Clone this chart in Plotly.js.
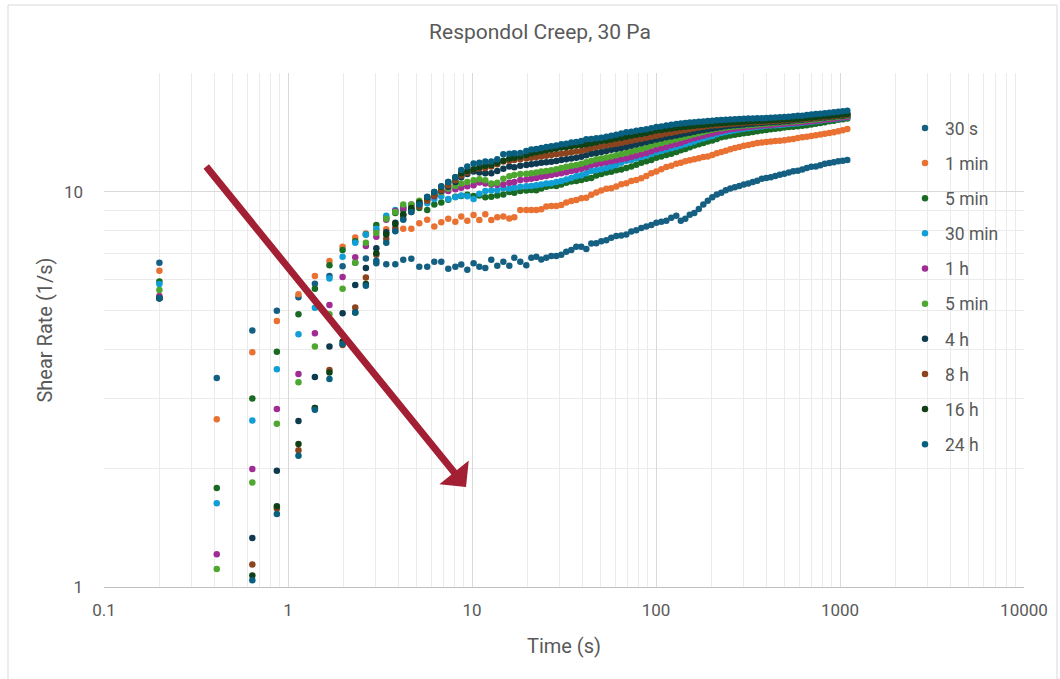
<!DOCTYPE html>
<html><head><meta charset="utf-8">
<script src="https://cdn.plot.ly/plotly-3.0.1.min.js"></script>
<style>html,body{margin:0;padding:0;background:#fff;}#chart{width:1060px;height:679px;}</style>
</head><body><div id="chart"></div>
<script>
// Time (s), shared by all series
const time = [0.2,0.41,0.64,0.87,1.14,1.4,1.68,1.98,2.32,2.65,
 3.02,3.42,3.83,4.23,4.68,5.17,5.71,6.24,6.81,7.43,
 8.12,8.74,9.43,10.2,10.96,11.81,12.73,13.72,14.8,15.95,
 16.98,18.3,19.73,21.01,22.36,23.8,25.34,26.98,28.72,30.57,
 32.54,34.65,36.88,39.26,41.8,44.5,47.37,50.43,53.69,57.16,
 60.83,64.76,68.95,73.4,78.14,83.2,88.6,94.3,100.4,106.9,
 113.8,121.1,128.9,136.4,144.3,152.6,161.5,170.9,180.8,191.2,
 202.3,214,226.4,239.5,253.4,268.1,283.6,300,317.4,335.8,
 355.2,375.8,397.6,420.6,445,470.8,498.1,526.9,557.5,589.8,
 623.9,660.1,698.3,738.8,781.5,826.8,874.7,925.4,979,1035.6,
 1095.6];

const seriesNames = ['30 s','1 min','5 min','30 min','1 h','5 min','4 h','8 h','16 h','24 h'];
const seriesColors = ['#156082','#E97132','#196B24','#0F9ED5','#A02B93','#4EA72E','#0D3A4E','#8C441E','#0F4016','#095F80'];

// Shear rate (1/s)
const s30 = [6.62,3.38,4.46,5.0,5.41,5.86,6.13,6.48,6.62,6.78,
 6.6,6.56,6.56,6.73,6.77,6.47,6.47,6.66,6.66,6.39,
 6.47,6.55,6.35,6.6,6.47,6.42,6.73,6.5,6.66,6.5,
 6.81,6.66,6.52,6.81,6.85,6.74,6.81,6.88,6.88,6.93,
 7.06,7.13,7.27,7.27,7.17,7.4,7.42,7.5,7.55,7.66,
 7.74,7.76,7.8,7.94,8.0,8.1,8.18,8.25,8.35,8.4,
 8.45,8.6,8.7,8.45,8.55,8.75,8.85,9.05,9.3,9.5,
 9.7,9.85,9.95,10.1,10.2,10.28,10.35,10.45,10.5,10.6,
 10.68,10.8,10.85,10.9,10.98,11.05,11.12,11.2,11.28,11.32,
 11.4,11.5,11.58,11.6,11.68,11.78,11.83,11.88,11.95,12.0,
 12.05];
const min1 = [6.32,2.66,3.93,4.71,5.51,6.13,6.69,7.27,7.67,7.85,
 8.0,8.05,8.0,8.07,8.07,8.33,8.5,8.17,8.38,8.55,
 8.4,8.66,8.45,8.74,8.49,8.78,8.49,8.63,8.66,8.57,
 8.63,9.0,9.0,9.0,9.0,9.04,9.18,9.21,9.21,9.27,
 9.4,9.49,9.54,9.64,9.67,9.83,9.96,10.08,10.18,10.22,
 10.32,10.46,10.52,10.66,10.72,10.83,10.98,11.15,11.26,11.42,
 11.56,11.65,11.78,11.85,11.95,12.02,12.1,12.17,12.25,12.3,
 12.4,12.52,12.62,12.72,12.83,12.92,13.0,13.08,13.15,13.22,
 13.3,13.33,13.38,13.42,13.45,13.48,13.52,13.58,13.62,13.69,
 13.75,13.8,13.86,13.92,13.97,14.03,14.1,14.16,14.25,14.33,
 14.43];
const min5 = [5.93,1.78,3.0,3.94,4.9,5.69,6.52,7.13,7.5,7.8,
 8.25,8.6,8.85,9.0,9.05,9.1,9.0,9.3,9.4,9.55,
 9.72,9.77,9.83,9.77,9.8,9.7,9.72,9.8,9.85,10.0,
 9.95,10.05,10.08,10.12,10.1,10.2,10.3,10.36,10.35,10.45,
 10.55,10.62,10.66,10.72,10.8,10.85,11.0,11.1,11.2,11.25,
 11.35,11.4,11.5,11.6,11.72,11.85,11.95,12.05,12.2,12.3,
 12.4,12.5,12.62,12.75,12.85,12.98,13.1,13.2,13.3,13.42,
 13.5,13.62,13.75,13.82,13.9,13.96,14.02,14.08,14.12,14.18,
 14.25,14.3,14.35,14.4,14.45,14.5,14.55,14.6,14.62,14.66,
 14.7,14.75,14.82,14.88,14.95,15.02,15.1,15.15,15.22,15.28,
 15.35];
const min30 = [5.85,1.63,2.64,3.56,4.36,5.09,6.04,6.85,7.44,7.8,
 8.07,8.7,9.0,9.15,9.25,9.3,9.36,9.6,9.75,9.6,
 9.7,9.8,9.75,9.6,9.9,10.05,10.08,10.1,10.22,10.2,
 10.25,10.3,10.33,10.35,10.4,10.45,10.5,10.52,10.6,10.66,
 10.75,10.85,10.95,11.02,11.15,11.3,11.35,11.42,11.5,11.6,
 11.7,11.85,12.0,12.05,12.15,12.25,12.35,12.48,12.6,12.7,
 12.8,12.9,13.0,13.1,13.2,13.3,13.42,13.55,13.65,13.75,
 13.85,14.0,14.1,14.18,14.25,14.32,14.38,14.45,14.5,14.55,
 14.6,14.65,14.7,14.72,14.75,14.78,14.82,14.85,14.88,14.92,
 14.96,15.0,15.05,15.1,15.15,15.2,15.25,15.3,15.35,15.4,
 15.45];
const h1 = [5.45,1.21,1.99,2.82,3.46,4.39,5.17,6.09,6.83,7.3,
 7.7,8.5,8.95,9.1,9.3,9.45,9.6,9.75,10.0,10.05,
 10.15,10.25,10.33,10.4,10.56,10.5,10.45,10.42,10.45,10.55,
 10.6,10.72,10.75,10.8,10.85,10.92,10.98,11.04,11.1,11.15,
 11.22,11.3,11.37,11.45,11.55,11.7,11.75,11.82,11.88,11.95,
 12.02,12.1,12.15,12.25,12.35,12.45,12.55,12.68,12.8,12.9,
 13.0,13.12,13.22,13.32,13.45,13.58,13.68,13.78,13.88,13.98,
 14.06,14.15,14.25,14.32,14.4,14.45,14.5,14.55,14.6,14.64,
 14.68,14.72,14.75,14.78,14.82,14.85,14.88,14.92,14.95,14.98,
 15.02,15.06,15.1,15.14,15.18,15.22,15.28,15.32,15.38,15.42,
 15.48];
const min5b = [5.65,1.11,1.84,2.59,3.3,4.06,4.9,5.69,6.62,7.44,
 7.87,8.55,8.9,9.3,9.3,9.5,9.7,9.85,10.0,10.2,
 10.35,10.5,10.6,10.7,10.77,10.7,10.5,10.55,10.8,10.95,
 11.04,11.1,11.12,11.15,11.2,11.26,11.3,11.35,11.42,11.5,
 11.58,11.65,11.7,11.78,11.88,12.0,12.1,12.15,12.22,12.3,
 12.38,12.48,12.55,12.65,12.75,12.85,12.95,13.08,13.2,13.3,
 13.4,13.5,13.6,13.7,13.8,13.9,14.0,14.08,14.18,14.28,
 14.36,14.45,14.5,14.55,14.6,14.64,14.68,14.72,14.75,14.78,
 14.82,14.85,14.88,14.92,14.95,14.98,15.02,15.05,15.08,15.12,
 15.15,15.2,15.24,15.28,15.32,15.36,15.4,15.45,15.5,15.55,
 15.6];
const h4 = [5.38,null,1.33,1.97,2.63,3.4,4.06,4.93,5.81,6.42,
 7.2,7.9,8.35,8.75,9.0,9.3,9.55,9.8,10.05,10.3,
 10.6,10.9,11.1,11.26,11.2,11.15,11.15,11.3,11.45,11.6,
 11.55,11.65,11.7,11.75,11.8,11.85,11.88,11.92,11.98,12.05,
 12.1,12.15,12.2,12.28,12.38,12.5,12.55,12.62,12.7,12.78,
 12.85,12.92,13.0,13.08,13.18,13.28,13.38,13.48,13.58,13.66,
 13.75,13.82,13.9,13.98,14.05,14.12,14.2,14.28,14.35,14.42,
 14.48,14.54,14.6,14.66,14.7,14.74,14.78,14.82,14.85,14.88,
 14.92,14.95,14.98,15.0,15.03,15.06,15.1,15.13,15.16,15.2,
 15.24,15.28,15.32,15.36,15.4,15.44,15.48,15.52,15.56,15.6,
 15.65];
const h8 = [5.38,null,1.14,1.58,2.22,2.84,3.54,4.1,5.1,6.07,
 6.93,7.6,8.1,8.55,8.9,9.2,9.5,9.8,10.1,10.4,
 10.7,11.0,11.2,11.4,11.47,11.5,11.6,11.75,11.94,12.0,
 12.05,12.1,12.15,12.2,12.25,12.3,12.35,12.4,12.45,12.5,
 12.55,12.6,12.65,12.7,12.8,12.9,12.99,13.05,13.12,13.18,
 13.25,13.32,13.4,13.48,13.56,13.64,13.72,13.8,13.88,13.96,
 14.05,14.12,14.2,14.28,14.35,14.42,14.5,14.56,14.62,14.68,
 14.72,14.76,14.8,14.84,14.88,14.9,14.93,14.96,14.98,15.0,
 15.02,15.05,15.08,15.1,15.12,15.15,15.18,15.2,15.23,15.26,
 15.3,15.33,15.37,15.41,15.45,15.49,15.53,15.57,15.61,15.65,
 15.7];
const h16 = [5.38,null,1.07,1.6,2.3,2.84,3.49,4.18,4.95,5.85,
 7.0,7.8,8.3,8.75,9.1,9.4,9.7,10.0,10.3,10.6,
 10.9,11.15,11.3,11.42,11.55,11.65,11.7,11.85,12.0,12.15,
 12.2,12.3,12.4,12.53,12.6,12.68,12.75,12.82,12.88,12.95,
 12.99,13.05,13.1,13.15,13.2,13.28,13.35,13.45,13.5,13.58,
 13.65,13.72,13.8,13.88,13.95,14.02,14.1,14.2,14.3,14.35,
 14.42,14.48,14.54,14.58,14.62,14.66,14.7,14.74,14.78,14.82,
 14.86,14.9,14.92,14.95,14.98,15.0,15.02,15.05,15.07,15.1,
 15.12,15.14,15.16,15.18,15.2,15.22,15.25,15.28,15.3,15.33,
 15.36,15.4,15.44,15.48,15.52,15.56,15.6,15.64,15.68,15.72,
 15.78];
const h24 = [5.38,null,1.04,1.53,2.15,2.81,3.36,4.12,4.95,5.79,
 6.7,7.44,7.95,8.5,8.9,9.3,9.72,10.0,10.33,10.6,
 10.9,11.37,11.6,11.8,11.85,11.94,11.94,12.1,12.45,12.5,
 12.53,12.55,12.7,12.8,12.85,12.92,13.0,13.05,13.1,13.2,
 13.25,13.33,13.38,13.45,13.6,13.62,13.68,13.72,13.8,13.88,
 13.95,14.05,14.15,14.2,14.28,14.35,14.42,14.5,14.6,14.65,
 14.72,14.8,14.85,14.9,14.95,14.98,15.02,15.05,15.08,15.12,
 15.15,15.18,15.2,15.22,15.25,15.28,15.3,15.33,15.35,15.35,
 15.36,15.36,15.38,15.4,15.42,15.45,15.48,15.5,15.55,15.58,
 15.6,15.65,15.7,15.74,15.78,15.82,15.86,15.9,15.95,16.0,
 16.05];

const xTickVals = [0.1,1,10,100,1000,10000];
const xTickText = ['0.1','1','10','100','1000','10000'];
const yTickVals = [1,10];
const yTickText = ['1','10'];

const seriesValues = [s30,min1,min5,min30,h1,min5b,h4,h8,h16,h24];

const traces = seriesValues.map((vals,i)=>({
  type:'scatter', mode:'markers', x: time, y: vals, name: seriesNames[i],
  legendgroup: 'g'+i, cliponaxis: true,
  marker:{color: seriesColors[i], size: 6.5, line:{width:0}},
  hoverinfo:'x+y+name'
}));

// minor grid positions
const xMinor = [];
[0.1,1,10,100,1000].forEach(d=>{ for(let k=2;k<=9;k++) xMinor.push(+(k*d).toPrecision(3)); });
const yMinor = [2,3,4,5,6,7,8,9,20];

const L=104, R=1024, T=73, B=587, W=1060, H=679;
const px = x => (x-L)/(R-L);
const py = y => (B-y)/(B-T);

const layout = {
  width:W, height:H,
  margin:{l:L, r:W-R, t:T, b:H-B, pad:0},
  paper_bgcolor:'#ffffff', plot_bgcolor:'#ffffff',
  font:{family:'Roboto, "Open Sans", sans-serif', color:'#595959', size:16},
  showlegend:true,
  title:{text:'Respondol Creep, 30 Pa', font:{size:21, color:'#595959'},
    xref:'container', yref:'container', x:540/W, xanchor:'center', y:1-32/H, yanchor:'middle'},
  xaxis:{type:'log', range:[-1,4], tickmode:'array', tickvals:xTickVals, ticktext:xTickText,
    showgrid:true, gridcolor:'#d9d9d9', gridwidth:1,
    minor:{tickmode:'array', tickvals:xMinor, showgrid:true, gridcolor:'#ebebeb', gridwidth:1, ticks:''},
    showline:true, linecolor:'#bfbfbf', linewidth:1, mirror:false, ticks:'', zeroline:false,
    tickfont:{size:17, color:'#595959'}, ticklabelstandoff:8,
    title:{text:'Time (s)', font:{size:20, color:'#595959'}, standoff:19}, fixedrange:true},
  yaxis:{type:'log', range:[0, Math.log10(20)], tickmode:'array', tickvals:yTickVals, ticktext:yTickText,
    showgrid:true, gridcolor:'#d9d9d9', gridwidth:1,
    minor:{tickmode:'array', tickvals:yMinor, showgrid:true, gridcolor:'#ebebeb', gridwidth:1, ticks:''},
    showline:false, ticks:'', zeroline:false,
    tickfont:{size:17, color:'#595959'}, ticklabelstandoff:20,
    title:{text:'Shear Rate (1/s)', font:{size:20, color:'#595959'}, standoff:5}, fixedrange:true},
  legend:{x:px(905), xanchor:'left', y:py(110), yanchor:'top', bgcolor:'rgba(0,0,0,0)',
    borderwidth:0, font:{size:17.5, color:'#595959'}, tracegroupgap:9.4, itemsizing:'trace', itemwidth:30, traceorder:'grouped'},
  shapes:[{type:'rect', xref:'paper', yref:'paper', x0:px(8), x1:px(1057), y0:py(690), y1:py(5),
    line:{color:'#d9d9d9', width:1}, fillcolor:'rgba(0,0,0,0)', layer:'below'}],
  annotations:[{xref:'paper', yref:'paper', x:px(466), y:py(487), text:'', showarrow:true,
    axref:'pixel', ayref:'pixel', ax:205-466, ay:165-487,
    arrowhead:1, arrowsize:0.9, arrowwidth:7, arrowcolor:'#A31F34', standoff:0, startstandoff:0}]
};

Plotly.newPlot('chart', traces, layout, {displayModeBar:false, staticPlot:true});
</script>
</body></html>
